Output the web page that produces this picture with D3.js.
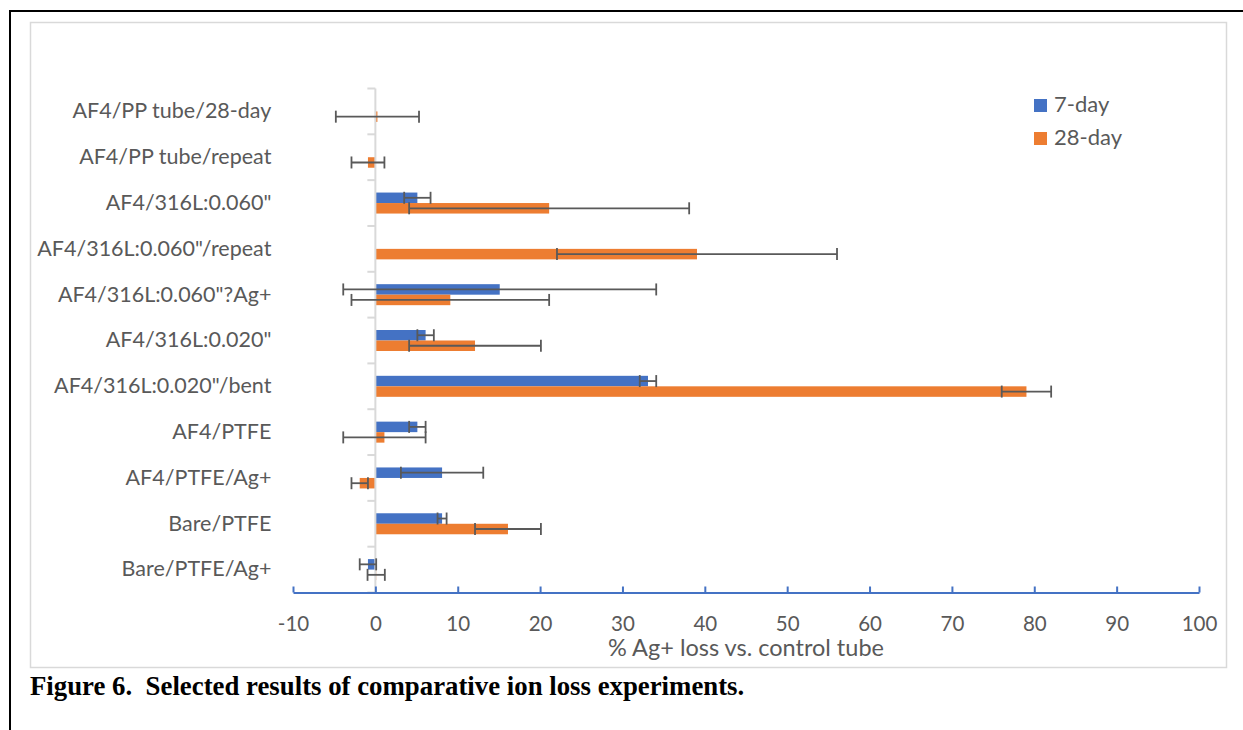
<!DOCTYPE html>
<html>
<head>
<meta charset="utf-8">
<script src="https://cdn.jsdelivr.net/npm/d3@7"></script>
<style>
	body { margin: 0; background: #fff; }
	svg { display: block; }
	.lbl { font-family: Lato, "Open Sans", sans-serif; fill: #595959; }
</style>
</head>
<body>
<div id="chart-area"></div>
<script>

// SVG Size
let width = 1243,
	height = 730;

// data (top row first)
let categories = [
	"AF4/PP tube/28-day",
	"AF4/PP tube/repeat",
	"AF4/316L:0.060\"",
	"AF4/316L:0.060\"/repeat",
	"AF4/316L:0.060\"?Ag+",
	"AF4/316L:0.020\"",
	"AF4/316L:0.020\"/bent",
	"AF4/PTFE",
	"AF4/PTFE/Ag+",
	"Bare/PTFE",
	"Bare/PTFE/Ag+"
];
let series = ["7-day", "28-day"];
let day7 = [null, null, 5.1, null, 15.1, 6.1, 33.1, 5.1, 8.1, 8.1, -0.9];
let day7Err = [null, null, 1.6, null, 19, 1, 1, 1, 5, 0.55, 1];
let day28 = [0.25, -0.9, 21.1, 39.05, 9.1, 12.1, 79.05, 1.1, -1.9, 16.1, 0.1];
let day28Err = [5.05, 2, 17, 17, 12, 8, 3, 5, 1, 4, 1.05];
let xTicks = [-10, 0, 10, 20, 30, 40, 50, 60, 70, 80, 90, 100];
let colors = ["#4472C4", "#ED7D31"];

let svg = d3.select("#chart-area").append("svg")
	.attr("width", width)
	.attr("height", height);

svg.append("rect")
	.attr("width", width)
	.attr("height", height)
	.attr("fill", "#fff");

// page frame (black) and chart frame (light gray)
svg.append("path")
	.attr("d", "M10,730 V11 H1243")
	.attr("fill", "none")
	.attr("stroke", "#000")
	.attr("stroke-width", 2);

svg.append("rect")
	.attr("x", 30.5)
	.attr("y", 22.5)
	.attr("width", 1196)
	.attr("height", 645)
	.attr("fill", "none")
	.attr("stroke", "#d9d9d9")
	.attr("stroke-width", 1.5);

let XScale = d3.scaleLinear()
	.domain([-10, 100])
	.range([293, 1199]);

let YScale = d3.scaleBand()
	.domain(categories)
	.range([88.5, 592.5]);

let barH = 10.5;

// build rows per series
let rows = [];
categories.forEach((c, i) => {
	[day7, day28].forEach((s, k) => {
		if (s[i] === null) return;
		rows.push({
			cat: c,
			k: k,
			value: s[i],
			err: k === 0 ? day7Err[i] : day28Err[i]
		});
	});
});

let barY = d => YScale(d.cat) + YScale.bandwidth() / 2 - barH + d.k * barH;

svg.selectAll(".bar").data(rows)
	.enter()
	.append("rect")
	.attr("class", "bar")
	.attr("x", d => XScale(Math.min(0, d.value)))
	.attr("y", d => barY(d))
	.attr("width", d => Math.abs(XScale(d.value) - XScale(0)))
	.attr("height", barH)
	.attr("fill", d => colors[d.k]);

// y axis line with ticks between categories
let yLine = svg.append("g").attr("class", "y-line");
yLine.append("line")
	.attr("x1", XScale(0))
	.attr("x2", XScale(0))
	.attr("y1", YScale.range()[0])
	.attr("y2", YScale.range()[1])
	.attr("stroke", "#d9d9d9")
	.attr("stroke-width", 2);

yLine.selectAll(".ytick").data(categories.concat(["end"]))
	.enter()
	.append("line")
	.attr("x1", XScale(0) - 8)
	.attr("x2", XScale(0))
	.attr("y1", (d, i) => YScale.range()[0] + i * YScale.step())
	.attr("y2", (d, i) => YScale.range()[0] + i * YScale.step())
	.attr("stroke", "#d9d9d9")
	.attr("stroke-width", 2);

// error bars
let errs = svg.selectAll(".err").data(rows.filter(d => d.err !== null))
	.enter()
	.append("g")
	.attr("class", "err")
	.attr("stroke", "#595959")
	.attr("stroke-width", 1.8);

errs.append("line")
	.attr("x1", d => XScale(d.value - d.err))
	.attr("x2", d => XScale(d.value + d.err))
	.attr("y1", d => barY(d) + barH / 2)
	.attr("y2", d => barY(d) + barH / 2);

[-1, 1].forEach(sgn => {
	errs.append("line")
		.attr("x1", d => XScale(d.value + sgn * d.err))
		.attr("x2", d => XScale(d.value + sgn * d.err))
		.attr("y1", d => barY(d) + barH / 2 - 6)
		.attr("y2", d => barY(d) + barH / 2 + 6);
});

// x axis
let xAxis = d3.axisBottom()
	.scale(XScale)
	.tickValues(xTicks)
	.tickFormat(d => String(d))
	.tickSizeInner(-6)
	.tickSizeOuter(0)
	.tickPadding(24);

let gx = svg.append("g")
	.attr("class", "axis x-axis")
	.attr("transform", "translate(0,592.5)")
	.call(xAxis);

gx.select(".domain").attr("stroke", "#4472C4").attr("stroke-width", 2);
gx.selectAll(".tick line").attr("stroke", "#4472C4").attr("stroke-width", 2);
gx.selectAll(".tick text")
	.attr("class", "lbl")
	.attr("fill", "#595959")
	.style("font-size", "20.5px");

// category labels
let yAxis = d3.axisLeft()
	.scale(YScale)
	.tickSize(0)
	.tickPadding(104);

let gy = svg.append("g")
	.attr("class", "axis y-axis")
	.attr("transform", "translate(" + XScale(0) + ",0)")
	.call(yAxis);

gy.select(".domain").remove();
gy.selectAll(".tick text")
	.attr("class", "lbl")
	.attr("fill", "#595959")
	.style("font-size", "21.5px");

// axis title
svg.append("text")
	.attr("class", "lbl")
	.attr("x", 746)
	.attr("y", 656)
	.attr("text-anchor", "middle")
	.style("font-size", "23.5px")
	.text("% Ag+ loss vs. control tube");

// legend
let legend = svg.selectAll(".legend").data(series)
	.enter()
	.append("g")
	.attr("class", "legend")
	.attr("transform", (d, i) => "translate(1034," + (99 + i * 33) + ")");

legend.append("rect")
	.attr("width", 13)
	.attr("height", 13)
	.attr("fill", (d, i) => colors[i]);

legend.append("text")
	.attr("class", "lbl")
	.attr("x", 20)
	.attr("y", 13)
	.style("font-size", "22px")
	.text(d => d);

// caption
svg.append("text")
	.attr("x", 30)
	.attr("y", 695)
	.style("font-family", "'Liberation Serif', 'Times New Roman', serif")
	.style("font-weight", "bold")
	.style("font-size", "26.8px")
	.style("white-space", "pre")
	.attr("fill", "#000")
	.text("Figure 6.  Selected results of comparative ion loss experiments.");

</script>
</body>
</html>
